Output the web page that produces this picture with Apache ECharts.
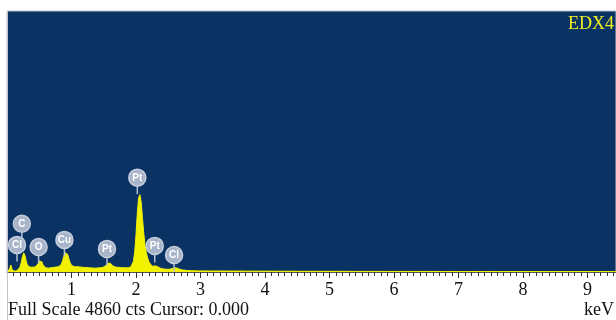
<!DOCTYPE html>
<html>
<head>
<meta charset="utf-8">
<script src="https://cdn.jsdelivr.net/npm/echarts@6/dist/echarts.min.js"></script>
<style>
html,body{margin:0;padding:0;background:#fff;}
#chart{width:616px;height:320px;}
</style>
</head>
<body>
<div id="chart"></div>
<script>
// ---- data ----
var fullScaleCts = 4860;
var cursorKeV = '0.000';
var tickLabels = ['', '1', '2', '3', '4', '5', '6', '7', '8', '9'];

var energyKeV = [
  0.00,0.02,0.04,0.06,0.08,0.10,0.12,0.14,0.16,0.18,
  0.20,0.22,0.24,0.26,0.28,0.30,0.32,0.34,0.36,0.38,
  0.40,0.42,0.44,0.46,0.48,0.50,0.52,0.54,0.56,0.58,
  0.60,0.62,0.64,0.66,0.68,0.70,0.72,0.74,0.76,0.78,
  0.80,0.82,0.84,0.86,0.88,0.90,0.92,0.94,0.96,0.98,
  1.00,1.02,1.04,1.06,1.08,1.10,1.12,1.14,1.16,1.18,
  1.20,1.22,1.24,1.26,1.28,1.30,1.32,1.34,1.36,1.38,
  1.40,1.42,1.44,1.46,1.48,1.50,1.52,1.54,1.56,1.58,
  1.60,1.62,1.64,1.66,1.68,1.70,1.72,1.74,1.76,1.78,
  1.80,1.82,1.84,1.86,1.88,1.90,1.92,1.94,1.96,1.98,
  2.00,2.02,2.04,2.06,2.08,2.10,2.12,2.14,2.16,2.18,
  2.20,2.22,2.24,2.26,2.28,2.30,2.32,2.34,2.36,2.38,
  2.40,2.42,2.44,2.46,2.48,2.50,2.52,2.54,2.56,2.58,
  2.60,2.62,2.64,2.66,2.68,2.70,2.72,2.74,2.76,2.78,
  2.80,2.82,2.84,2.86,2.88,2.90,2.92,2.94,2.96,2.98,
  3.0,3.1,3.2,3.3,3.4,3.5,3.6,3.7,3.8,3.9,
  4.0,4.1,4.2,4.3,4.4,4.5,4.6,4.7,4.8,4.9,
  5.0,5.2,5.4,5.6,5.8,6.0,6.2,6.4,6.6,6.8,
  7.0,7.2,7.4,7.6,7.8,8.0,8.2,8.4,8.6,8.8,
  9.0,9.2,9.4,9.5
];
var counts = [
  0,20,60,130,40,20,15,20,30,50,
  90,170,290,355,300,190,120,95,90,88,
  90,92,95,110,150,205,225,190,130,95,
  80,75,72,75,78,80,85,90,92,95,
  100,110,140,200,290,360,375,330,240,170,
  125,105,100,98,100,96,95,92,90,88,
  85,84,82,80,78,76,75,74,72,72,
  74,75,78,80,84,90,105,130,160,170,
  165,140,115,100,92,88,86,85,84,82,
  80,80,78,78,80,85,95,120,200,380,
  700,1100,1380,1440,1300,1000,720,500,360,260,
  190,150,120,105,110,115,110,95,80,70,
  62,58,55,52,50,50,52,56,62,72,
  80,78,70,60,50,42,38,35,32,30,
  28,26,25,24,23,22,22,21,20,20,
  20,19,19,18,18,17,17,16,16,15,
  15,15,14,14,14,13,13,13,12,12,
  12,12,11,11,11,10,10,10,10,9,
  9,9,9,9,8,8,8,8,8,8,
  8,8,8,8
];

var labelElements = ['C', 'Cl', 'O', 'Cu', 'Pt', 'Pt', 'Pt', 'Cl'];
var labelKeV      = [0.23, 0.155, 0.49, 0.89, 1.55, 2.02, 2.29, 2.59];
var labelCts      = [897, 505, 467, 598, 430, 1757, 486, 318];

// ---- chart ----
var spectrum = energyKeV.map(function (e, i) { return [e, counts[i]]; });
var labelData = labelKeV.map(function (e, i) { return [e, labelCts[i]]; });

var serif = "'Liberation Serif', 'Times New Roman', serif";
var chart = echarts.init(document.getElementById('chart'), null, {renderer: 'canvas'});

chart.setOption({
  animation: false,
  backgroundColor: '#ffffff',
  grid: {
    left: 7, right: 0, top: 11, bottom: 48,
    containLabel: false, outerBoundsMode: 'none',
    show: true, backgroundColor: '#0a3364',
    borderColor: '#b8bfcc', borderWidth: 1
  },
  xAxis: {
    type: 'value', min: 0, max: 9.44, interval: 1,
    axisLine: {show: true, onZero: false, lineStyle: {color: '#555', width: 1}},
    axisTick: {show: true, length: 6, lineStyle: {color: '#333'}},
    minorTick: {show: true, splitNumber: 10, length: 4, lineStyle: {color: '#333'}},
    splitLine: {show: false},
    axisLabel: {
      margin: 9, color: '#111', fontFamily: serif, fontSize: 18,
      showMaxLabel: false, hideOverlap: false,
      formatter: function (v) {
        if (Math.abs(v - Math.round(v)) > 1e-6) return '';
        return tickLabels[Math.round(v)] || '';
      }
    }
  },
  yAxis: {
    type: 'value', min: 0, max: fullScaleCts, show: false,
    splitLine: {show: false}
  },
  series: [
    {
      type: 'line', data: spectrum, showSymbol: false, symbol: 'none',
      lineStyle: {color: '#f2f200', width: 1},
      areaStyle: {color: '#f2f200', opacity: 1},
      z: 2
    },
    {
      type: 'custom', data: labelData, z: 5,
      renderItem: function (params, api) {
        var p = api.coord([api.value(0), api.value(1)]);
        var r = 8.5;
        return {
          type: 'group',
          children: [
            {type: 'line', shape: {x1: p[0], y1: p[1] + r - 1, x2: p[0], y2: p[1] + r + 8},
             style: {stroke: '#b7c1d2', lineWidth: 1.5}},
            {type: 'circle', shape: {cx: p[0], cy: p[1], r: r},
             style: {fill: '#a8b4c9', stroke: '#c5cddb', lineWidth: 1.5}},
            {type: 'text', x: p[0], y: p[1] + 0.5,
             style: {text: labelElements[params.dataIndex], fill: '#ffffff',
                     font: 'bold 10px Arial, sans-serif', align: 'center', verticalAlign: 'middle'}}
          ]
        };
      }
    }
  ],
  graphic: [
    {type: 'line', shape: {x1: 7.5, y1: 11, x2: 7.5, y2: 320}, style: {stroke: '#c0c4cc', lineWidth: 1}, z: 10},
    {type: 'text', right: 2, top: 15,
     style: {text: 'EDX4', fill: '#eeee22', font: '18px ' + serif}, z: 10},
    {type: 'text', left: 8, top: 301,
     style: {text: 'Full Scale ' + fullScaleCts + ' cts Cursor: ' + cursorKeV, fill: '#111', font: '18px ' + serif}, z: 10},
    {type: 'text', right: 2, top: 301,
     style: {text: 'keV', fill: '#111', font: '18px ' + serif}, z: 10}
  ]
});
</script>
</body>
</html>
